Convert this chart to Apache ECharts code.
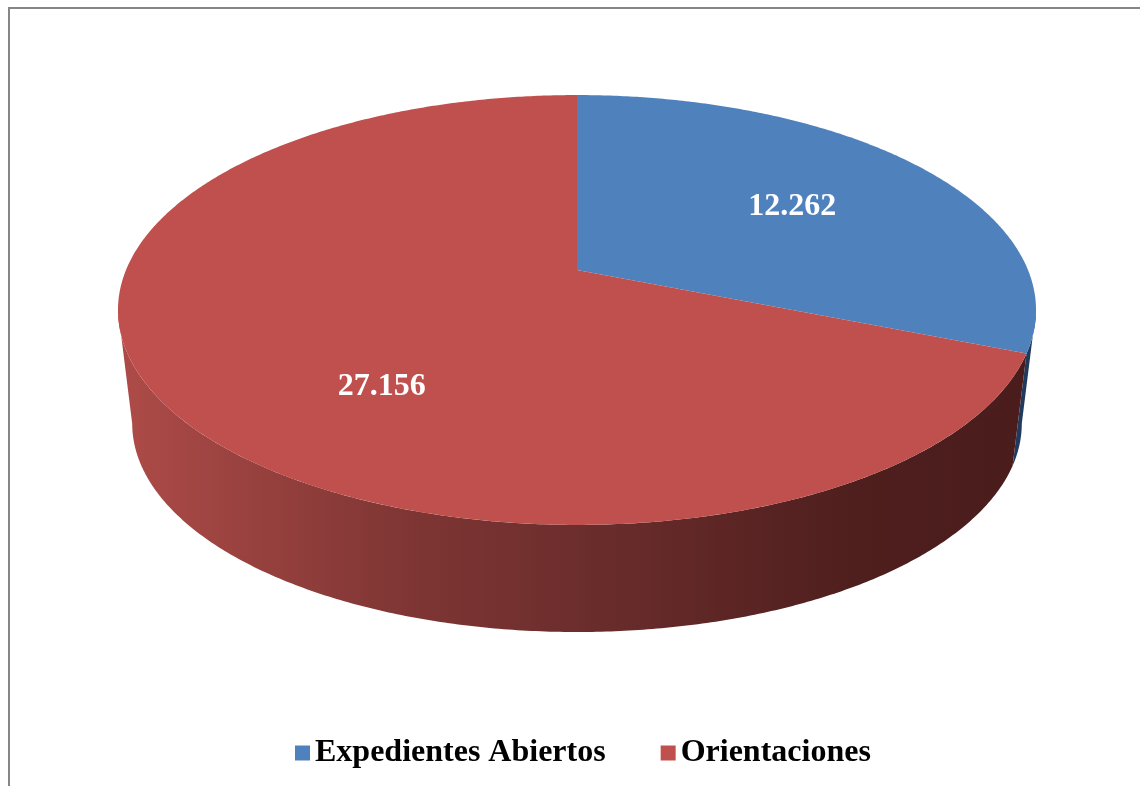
<!DOCTYPE html>
<html>
<head>
<meta charset="utf-8">
<script src="https://cdn.jsdelivr.net/npm/echarts@6/dist/echarts.min.js"></script>
<style>
html, body { margin: 0; padding: 0; background: #fff; }
#chart { width: 1140px; height: 786px; }
</style>
</head>
<body>
<div id="chart"></div>
<script>
// data
const categories = ['Expedientes Abiertos', 'Orientaciones'];
const values = [12262, 27156];
const valueLabels = ['12.262', '27.156'];

// styles
const topColors = ['#4f81bd', '#c0504d'];
const sideStops = [
	[{ offset: 0, color: '#3f6592' }, { offset: 1, color: '#1f3a5c' }],
	[
		{ offset: 0, color: '#ab4a47' },
		{ offset: 0.3, color: '#7f3634' },
		{ offset: 0.55, color: '#672b2a' },
		{ offset: 0.8, color: '#4f1f1e' },
		{ offset: 1, color: '#4a1c1c' }
	]
]
// excel pushes the big slice's label toward the front face a bit
const labelNudge = [[4, 2], [44, 42]]

// 3d pie projection (perspective tilted disc)
const pie = { cx: 577, cy: 270, a: 451, b: 207.5, p: 0.186, depth: 115, shrink: 0.969 }

function proj(theta, r, bottom) {
	const u = r * Math.sin(theta)
	const v = r * Math.cos(theta)
	const d = 1 + pie.p * v
	const s = bottom ? pie.shrink : 1
	return [pie.cx + s * pie.a * u / d, pie.cy + (bottom ? pie.depth : 0) - s * pie.b * v / d]
}

function arc(t1, t2, r, bottom) {
	const pts = []
	const n = Math.max(2, Math.ceil(Math.abs(t2 - t1) / (Math.PI / 360)))
	for (let i = 0; i <= n; i++) {
		pts.push(proj(t1 + (t2 - t1) * i / n, r, bottom))
	}
	return pts
}

const total = values.reduce((s, v) => s + v, 0)
const starts = []
let acc = 0
values.forEach(v => { starts.push(acc / total * Math.PI * 2); acc += v })

const frontFrom = Math.acos(-pie.p)
const frontTo = Math.PI * 2 - frontFrom

function renderSlice(idx) {
	return function (params, api) {
		const t1 = starts[idx]
		const t2 = t1 + values[idx] / total * Math.PI * 2
		const children = []
		// side wall, visible front part only
		const s1 = Math.max(t1, frontFrom)
		const s2 = Math.min(t2, frontTo)
		if (s2 > s1) {
			const pts = arc(s1, s2, 1, false).concat(arc(s2, s1, 1, true))
			children.push({
				type: 'polygon',
				shape: { points: pts },
				style: {
					fill: {
						type: 'linear', global: true,
						x: pie.cx - pie.a * 0.98, y: 0, x2: pie.cx + pie.a * 1.0, y2: 0,
						colorStops: sideStops[idx]
					}
				}
			})
		}
		// top face
		children.push({
			type: 'polygon',
			shape: { points: [[pie.cx, pie.cy]].concat(arc(t1, t2, 1, false)) },
			style: { fill: topColors[idx] }
		})
		const mid = (t1 + t2) / 2
		const lp = proj(mid, 0.6, false)
		children.push({
			type: 'text',
			style: {
				text: valueLabels[idx],
				x: lp[0] + labelNudge[idx][0], y: lp[1] + labelNudge[idx][1],
				fill: '#fff',
				fontFamily: 'Liberation Serif',
				fontWeight: 'bold',
				fontSize: 32,
				align: 'center',
				verticalAlign: 'middle'
			}
		})
		return { type: 'group', children: children }
	}
}

const chart = echarts.init(document.getElementById('chart'))
chart.setOption({
	animation: false,
	color: topColors,
	graphic: [{
		type: 'rect',
		shape: { x: 9, y: 8, width: 1200, height: 900 },
		style: { fill: 'none', stroke: '#868686', lineWidth: 2 },
		z: -1
	}],
	legend: {
		data: categories,
		left: 290,
		top: 732,
		itemWidth: 15,
		itemHeight: 15,
		itemGap: 55,
		icon: 'rect',
		textStyle: {
			fontFamily: 'Liberation Serif',
			fontWeight: 'bold',
			fontSize: 32,
			color: '#000'
		}
	},
	series: categories.map((name, i) => ({
		name: name,
		type: 'custom',
		coordinateSystem: 'none',
		itemStyle: { color: topColors[i] },
		renderItem: renderSlice(i),
		data: [values[i]]
	}))
})
</script>
</body>
</html>
